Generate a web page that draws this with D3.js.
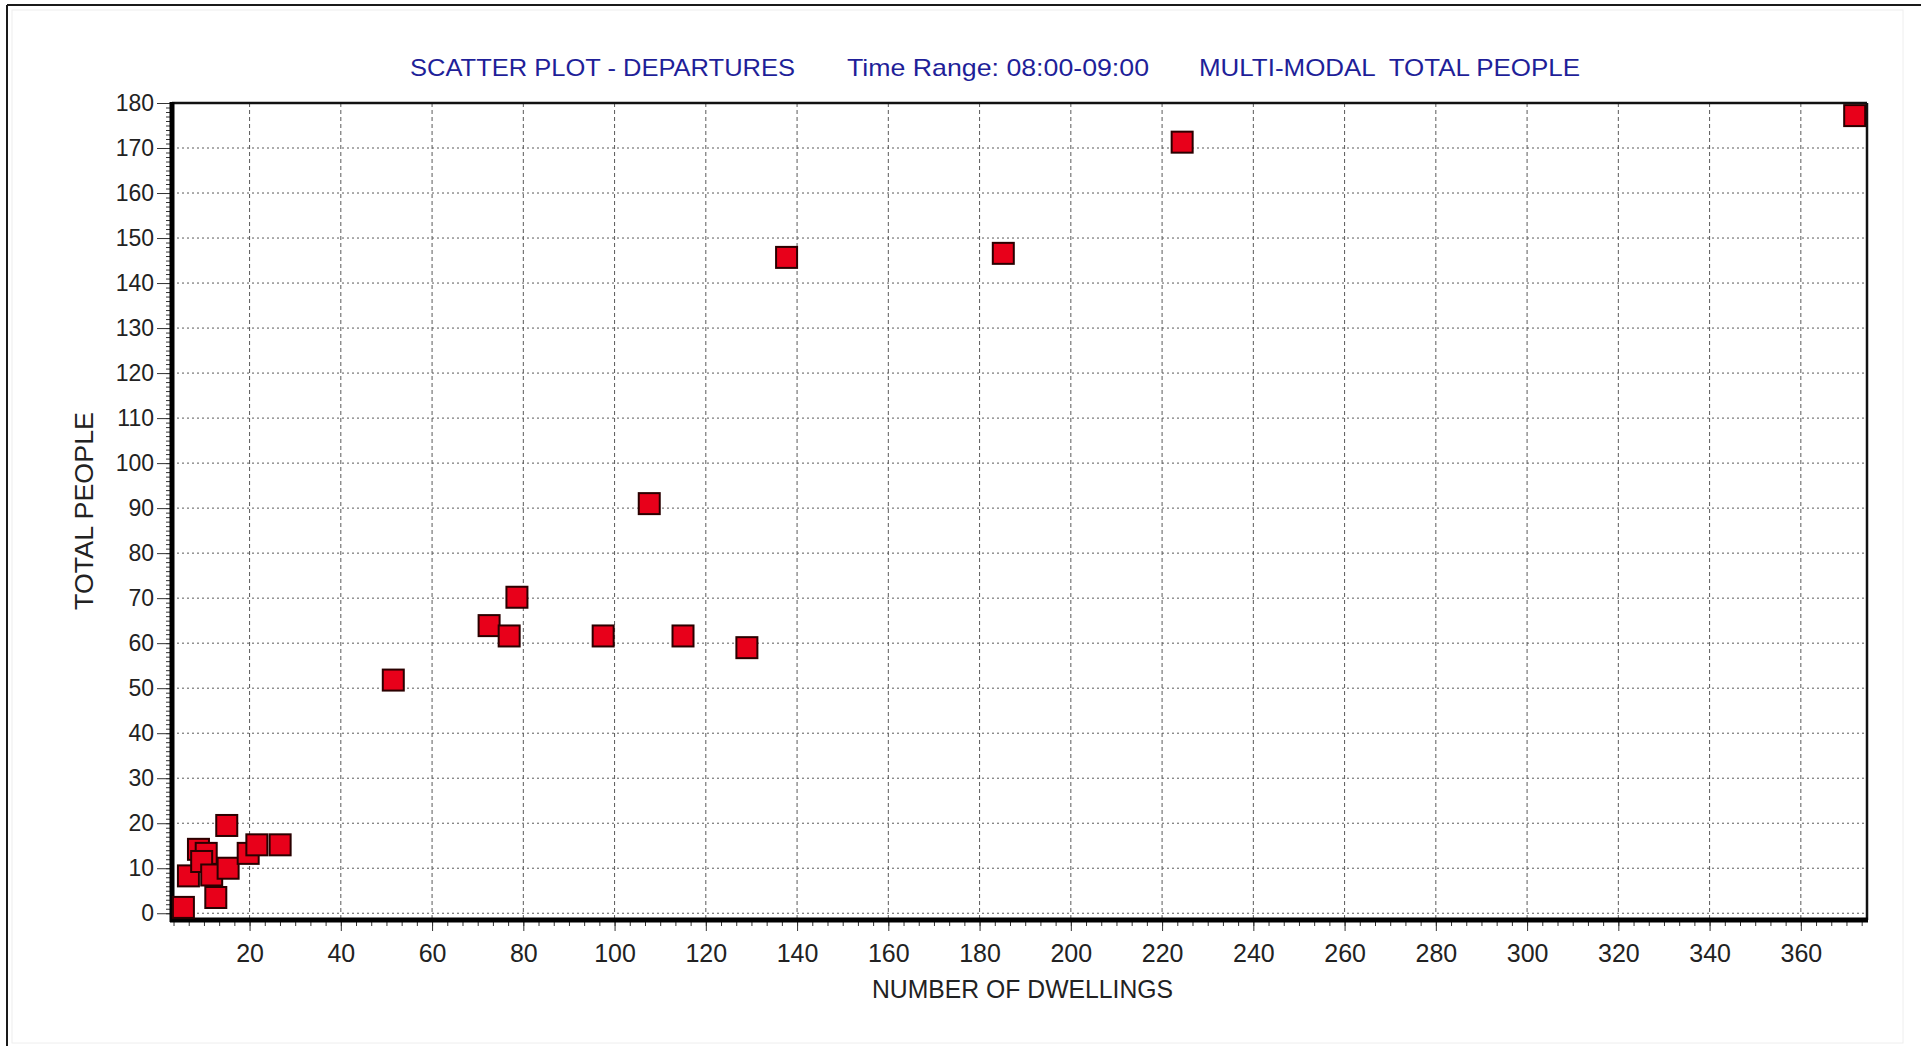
<!DOCTYPE html>
<html>
<head>
<meta charset="utf-8">
<script src="https://cdn.jsdelivr.net/npm/d3@7"></script>
<style>
  html, body { margin: 0; padding: 0; background: #ffffff; }
  svg { display: block; }
  text { font-family: "Liberation Sans", Arial, sans-serif; }
</style>
</head>
<body>
<svg id="chart" width="1921" height="1046"></svg>
<script>
// ---- data ----
const titleParts = ["SCATTER PLOT - DEPARTURES", "Time Range: 08:00-09:00", "MULTI-MODAL  TOTAL PEOPLE"];
const xAxisTitle = "NUMBER OF DWELLINGS";
const yAxisTitle = "TOTAL PEOPLE";
const xTicks = [20, 40, 60, 80, 100, 120, 140, 160, 180, 200, 220, 240, 260, 280, 300, 320, 340, 360];
const yTicks = [0, 10, 20, 30, 40, 50, 60, 70, 80, 90, 100, 110, 120, 130, 140, 150, 160, 170, 180];
const dwellings = [5.5, 12.6, 15.0, 6.6, 8.8, 10.5, 9.5, 11.7, 15.3, 19.7, 21.6, 26.7,
                   51.5, 72.5, 76.9, 78.6, 97.5, 107.6, 115.0, 129.0, 137.7, 185.2, 224.4, 371.8];
const people    = [1.3, 3.5, 19.5, 8.3, 14.2, 13.3, 11.5, 8.5, 10.0, 13.3, 15.2, 15.2,
                   51.8, 63.9, 61.6, 70.2, 61.6, 91.0, 61.6, 59.0, 145.7, 146.6, 171.3, 177.2];

// ---- layout ----
const L = 172, R = 1867, T = 103, B = 920;
const svg = d3.select("#chart");

const x = d3.scaleLinear().domain([3, 374.5]).range([L, R]);
const y = d3.scaleLinear().domain([-1.5, 180]).range([B, T]);

// outer frame
svg.append("rect").attr("x", 12).attr("y", 10).attr("width", 1891).attr("height", 1033)
  .attr("fill", "none").attr("stroke", "#eeeeee").attr("stroke-width", 1);
svg.append("line").attr("x1", 7).attr("x2", 1921).attr("y1", 5).attr("y2", 5)
  .attr("stroke", "#1a1a1a").attr("stroke-width", 2);
svg.append("line").attr("x1", 7).attr("x2", 7).attr("y1", 5).attr("y2", 1046)
  .attr("stroke", "#1a1a1a").attr("stroke-width", 2);

// title
const titleSpans = [[410, 385], [847, 302], [1199, 381]];
titleParts.forEach((t, i) => {
  svg.append("text").attr("x", titleSpans[i][0]).attr("y", 76)
    .attr("font-size", 24).attr("fill", "#1f1f99")
    .style("white-space", "pre")
    .attr("textLength", titleSpans[i][1]).attr("lengthAdjust", "spacingAndGlyphs")
    .text(t);
});

// gridlines
const grid = svg.append("g");
grid.selectAll("line.vx").data(xTicks).join("line")
  .attr("x1", d => x(d)).attr("x2", d => x(d)).attr("y1", T).attr("y2", B)
  .attr("stroke", "#5a5a5a").attr("stroke-width", 1).attr("stroke-dasharray", "4,3");
grid.selectAll("line.hy").data(yTicks.filter(d => d < 180)).join("line")
  .attr("x1", L).attr("x2", R).attr("y1", d => y(d)).attr("y2", d => y(d))
  .attr("stroke", "#5a5a5a").attr("stroke-width", 1).attr("stroke-dasharray", "2,3");

// minor ticks
const xMinor = d3.range(20 / 6, 374.5, 20 / 6).filter(v => v > 3);
const yMinor = d3.range(0, 181, 1);
const xMinorAxis = d3.axisBottom(x).tickValues(xMinor).tickSize(6).tickFormat("");
const yMinorAxis = d3.axisLeft(y).tickValues(yMinor).tickSize(6).tickFormat("");
svg.append("g").attr("transform", `translate(0,${B})`).call(xMinorAxis)
  .call(g => g.select(".domain").remove())
  .selectAll("line").attr("stroke", "#333");
svg.append("g").attr("transform", `translate(${L},0)`).call(yMinorAxis)
  .call(g => g.select(".domain").remove())
  .selectAll("line").attr("stroke", "#333");

// major axes
const xAxis = d3.axisBottom(x).tickValues(xTicks).tickSize(11).tickPadding(13);
const yAxis = d3.axisLeft(y).tickValues(yTicks).tickSize(15).tickPadding(3);
const gx = svg.append("g").attr("transform", `translate(0,${B})`).call(xAxis);
gx.select(".domain").remove();
gx.selectAll("line").attr("stroke", "#333");
gx.selectAll("text").attr("font-size", 25).attr("fill", "#222")
  .attr("font-family", "'Liberation Sans', Arial, sans-serif");
const gy = svg.append("g").attr("transform", `translate(${L},0)`).call(yAxis);
gy.select(".domain").remove();
gy.selectAll("line").attr("stroke", "#333");
gy.selectAll("text").attr("font-size", 23).attr("fill", "#222")
  .attr("font-family", "'Liberation Sans', Arial, sans-serif");

// plot frame
svg.append("line").attr("x1", L).attr("x2", R).attr("y1", T).attr("y2", T)
  .attr("stroke", "#111").attr("stroke-width", 2.5);
svg.append("line").attr("x1", R).attr("x2", R).attr("y1", T).attr("y2", B)
  .attr("stroke", "#111").attr("stroke-width", 2.5);
svg.append("line").attr("x1", L).attr("x2", L).attr("y1", T - 1).attr("y2", B + 2)
  .attr("stroke", "#000").attr("stroke-width", 5);
svg.append("line").attr("x1", L - 2).attr("x2", R + 1).attr("y1", B).attr("y2", B)
  .attr("stroke", "#000").attr("stroke-width", 5);

// axis titles
svg.append("text").attr("x", 872).attr("y", 998)
  .attr("font-size", 25).attr("fill", "#222")
  .attr("textLength", 301).attr("lengthAdjust", "spacingAndGlyphs")
  .text(xAxisTitle);
svg.append("text").attr("transform", "translate(93,610) rotate(-90)")
  .attr("font-size", 26).attr("fill", "#222")
  .attr("textLength", 198).attr("lengthAdjust", "spacingAndGlyphs")
  .text(yAxisTitle);

// points
const pts = dwellings.map((d, i) => ({ x: d, y: people[i] }));
const S = 21;
svg.append("g").selectAll("rect").data(pts).join("rect")
  .attr("x", d => x(d.x) - S / 2).attr("y", d => y(d.y) - S / 2)
  .attr("width", S).attr("height", S)
  .attr("fill", "#e8001a").attr("stroke", "#2a0000").attr("stroke-width", 2);
</script>
</body>
</html>
